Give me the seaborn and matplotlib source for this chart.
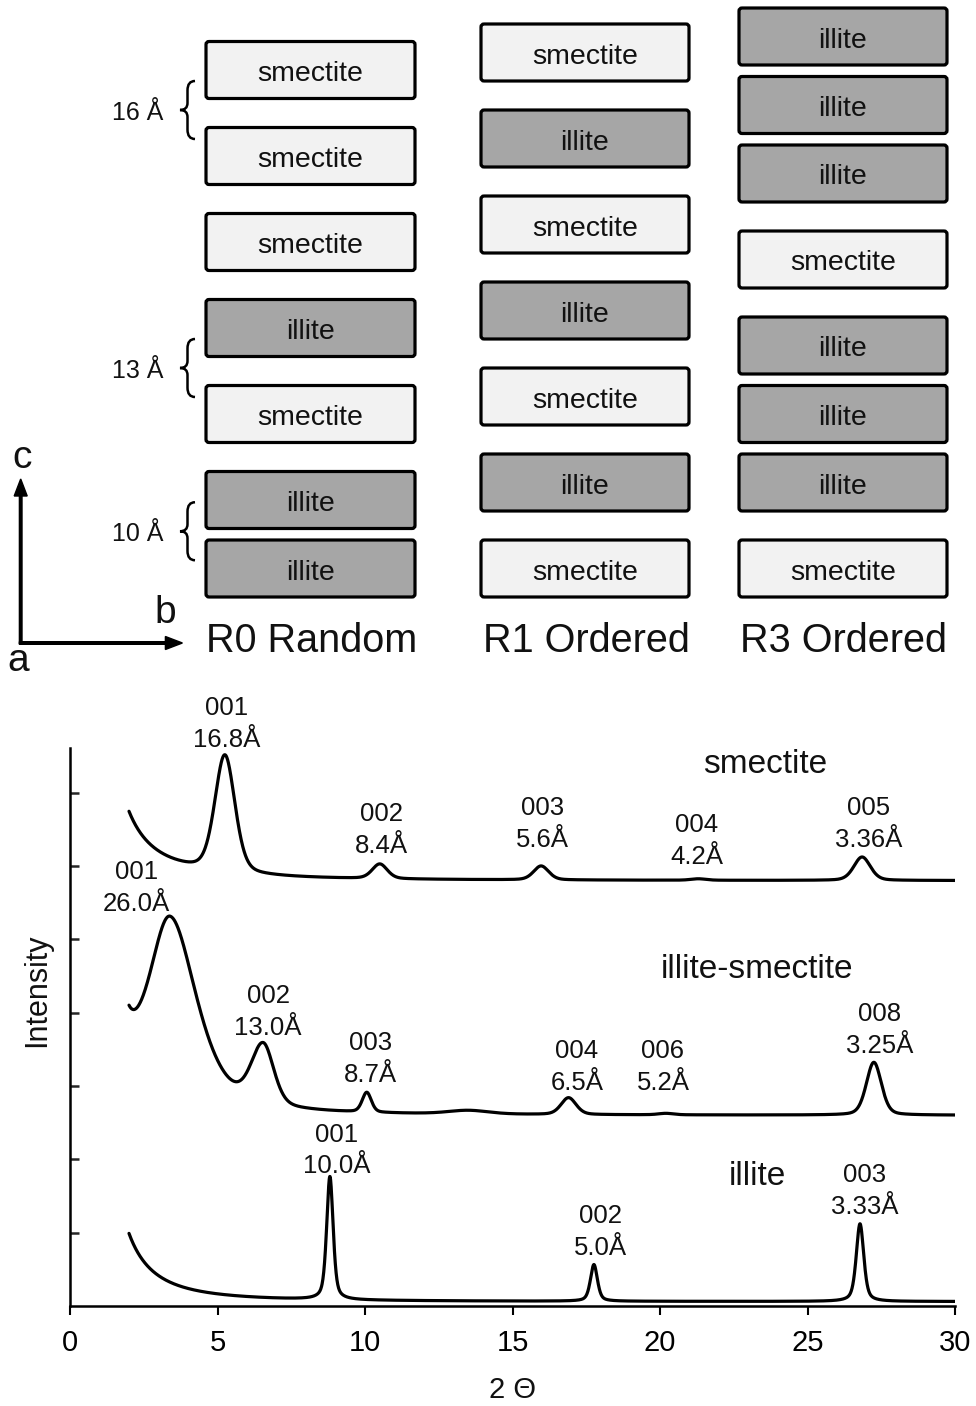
import numpy as np
import pandas as pd
import matplotlib
matplotlib.use("Agg")
import matplotlib.pyplot as plt
import seaborn as sns
from matplotlib.patches import FancyBboxPatch, FancyArrow, PathPatch
from matplotlib.path import Path

sns.set_theme(style="white")
plt.rcParams['font.family'] = ['Liberation Sans', 'DejaVu Sans']

# ---------------- data ----------------
column_titles = ["R0 Random", "R1 Ordered", "R3 Ordered"]
# layer stacks, listed top to bottom
stack_r0 = ["smectite", "smectite", "smectite", "illite", "smectite", "illite", "illite"]
stack_r1 = ["smectite", "illite", "smectite", "illite", "smectite", "illite", "smectite"]
stack_r3 = ["illite", "illite", "illite", "smectite", "illite", "illite", "illite", "smectite"]
spacing_labels = ["16 Å", "13 Å", "10 Å"]
spacing_after_layer = [0, 3, 5]          # brace between layer i and i+1 of R0

# XRD patterns: peak positions (2θ), heights, widths (left/right HWHM), Lorentz fraction
sm_pos = [5.25, 10.5, 15.97, 21.3, 26.85]
sm_height = [1.60, 0.20, 0.19, 0.02, 0.32]
sm_wl = [0.40, 0.30, 0.30, 0.30, 0.33]
sm_wr = [0.40, 0.30, 0.30, 0.30, 0.33]
sm_eta = [0.3, 0.3, 0.3, 0.3, 0.3]
sm_base = 5.80
sm_lowangle = [0.94, 2.15]

is_pos = [3.39, 6.55, 10.06, 13.5, 16.9, 20.2, 27.25]
is_height = [2.62, 0.82, 0.27, 0.05, 0.23, 0.02, 0.72]
is_wl = [0.90, 0.48, 0.18, 0.80, 0.30, 0.30, 0.30]
is_wr = [1.08, 0.42, 0.18, 0.80, 0.30, 0.30, 0.30]
is_eta = [0.6, 0.3, 0.3, 0.3, 0.3, 0.3, 0.3]
is_base = 2.60
is_lowangle = [0.835, 4.2]

il_pos = [8.81, 17.76, 26.78]
il_height = [1.68, 0.50, 1.06]
il_wl = [0.13, 0.14, 0.15]
il_wr = [0.13, 0.14, 0.15]
il_eta = [0.5, 0.5, 0.5]
il_base = 0.06
il_lowangle = [0.93, 2.38]

two_theta_range = [2.0, 30.0]

# peak annotations (label, 2θ, intensity of lower-line baseline)
sm_labels = ["001\n16.8Å", "002\n8.4Å", "003\n5.6Å", "004\n4.2Å", "005\n3.36Å"]
sm_label_x = [5.30, 10.56, 16.03, 21.24, 27.08]
sm_label_y = [7.63, 6.18, 6.26, 6.03, 6.26]
is_labels = ["001\n26.0Å", "002\n13.0Å", "003\n8.7Å", "004\n6.5Å", "006\n5.2Å", "008\n3.25Å"]
is_label_x = [2.26, 6.72, 10.20, 17.18, 20.10, 27.45]
is_label_y = [5.39, 3.70, 3.06, 2.95, 2.95, 3.45]
il_labels = ["001\n10.0Å", "002\n5.0Å", "003\n3.33Å"]
il_label_x = [9.04, 17.99, 26.94]
il_label_y = [1.81, 0.70, 1.26]
pattern_names = ["smectite", "illite-smectite", "illite"]
pattern_name_x = [23.56, 23.29, 23.29]
pattern_name_y = [7.27, 4.47, 1.65]
x_ticks = [0, 5, 10, 15, 20, 25, 30]
y_ticks = [1, 2, 3, 4, 5, 6, 7]


def pattern(x, pos, h, wl, wr, eta, base, low):
    y = np.full_like(x, base) + low[0] * (2.0 / x) ** low[1]
    for p, hh, a, b, e in zip(pos, h, wl, wr, eta):
        w = np.where(x < p, a, b)
        d2 = ((x - p) / w) ** 2
        y = y + hh * (e / (1 + d2) + (1 - e) * np.exp(-np.log(2) * d2))
    return y


x = np.linspace(two_theta_range[0], two_theta_range[1], 3000)
frames = []
for name, args in [("smectite", (sm_pos, sm_height, sm_wl, sm_wr, sm_eta, sm_base, sm_lowangle)),
                   ("illite-smectite", (is_pos, is_height, is_wl, is_wr, is_eta, is_base, is_lowangle)),
                   ("illite", (il_pos, il_height, il_wl, il_wr, il_eta, il_base, il_lowangle))]:
    frames.append(pd.DataFrame({"two_theta": x, "intensity": pattern(x, *args), "pattern": name}))
df = pd.concat(frames, ignore_index=True)

# ---------------- figure ----------------
W, H = 976, 1406
fig = plt.figure(figsize=(W / 100, H / 100), dpi=100)

# diagram overlay in pixel coordinates
axd = fig.add_axes([0, 0, 1, 1])
axd.set_xlim(0, W)
axd.set_ylim(H, 0)
axd.axis('off')
axd.patch.set_alpha(0)

fills = {"smectite": "#f2f2f2", "illite": "#a6a6a6"}
col_left = [206, 481, 739]
col_width = [209, 208, 208]
box_h = 57
bottom_top = 540


def stack_tops(stack):
    tops = [bottom_top]
    rev = stack[::-1]
    for i in range(1, len(rev)):
        gap = 11.5 if (rev[i] == "illite" and rev[i - 1] == "illite") else 29
        tops.append(tops[-1] - gap - box_h)
    return tops[::-1]


all_tops = []
for ci, stack in enumerate([stack_r0, stack_r1, stack_r3]):
    tops = stack_tops(stack)
    all_tops.append(tops)
    for layer, t in zip(stack, tops):
        axd.add_patch(FancyBboxPatch((col_left[ci], t), col_width[ci], box_h,
                                     boxstyle="round,pad=0,rounding_size=3",
                                     facecolor=fills[layer], edgecolor="black", lw=2.3))
        axd.text(col_left[ci] + col_width[ci] / 2, t + box_h / 2 + 11, layer,
                 ha="center", va="baseline", fontsize=20.5, color="#111111")
    axd.text(col_left[ci] + col_width[ci] / 2 + 1, 652, column_titles[ci],
             ha="center", va="baseline", fontsize=28.5, color="#111111")


def brace(ax, xl, xr, yc, h):
    xm = (xl + xr) / 2
    yt, yb = yc - h / 2, yc + h / 2
    verts = [(xr, yt), (xm, yt), (xm, yt + 0.16 * h),
             (xm, yc - 0.12 * h),
             (xm, yc), (xl, yc),
             (xm, yc), (xm, yc + 0.12 * h),
             (xm, yb - 0.16 * h),
             (xm, yb), (xr, yb)]
    codes = [Path.MOVETO, Path.CURVE3, Path.CURVE3, Path.LINETO,
             Path.CURVE3, Path.CURVE3, Path.CURVE3, Path.CURVE3,
             Path.LINETO, Path.CURVE3, Path.CURVE3]
    ax.add_patch(PathPatch(Path(verts, codes), fill=False, lw=1.8, edgecolor="black"))


tops0 = all_tops[0]
for lab, i in zip(spacing_labels, spacing_after_layer):
    yc = (tops0[i] + box_h + tops0[i + 1]) / 2 - 3
    brace(axd, 180, 195, yc, 58)
    axd.text(163, yc + 10, lab, ha="right", va="baseline", fontsize=18, color="#111111")

# crystallographic axes
axd.add_patch(FancyArrow(20.7, 644, 0, -165, width=2.6, head_width=13, head_length=17,
                         length_includes_head=True, color="black"))
axd.add_patch(FancyArrow(19.4, 643, 163, 0, width=2.6, head_width=13, head_length=17,
                         length_includes_head=True, color="black"))
axd.text(22, 468, "c", ha="center", va="baseline", fontsize=28, color="#111111")
axd.text(165, 623, "b", ha="center", va="baseline", fontsize=28, color="#111111")
axd.text(18, 671, "a", ha="center", va="baseline", fontsize=28, color="#111111")

# XRD plot
ax = fig.add_axes([70 / W, 100 / H, 885 / W, 558 / H])
sns.lineplot(data=df, x="two_theta", y="intensity", units="pattern", estimator=None,
             color="black", linewidth=2.3, sort=False, ax=ax, legend=False)
ax.set_xlim(0, 30)
ax.set_ylim(0, 7.61)
for s in ["top", "right"]:
    ax.spines[s].set_visible(False)
for s in ["left", "bottom"]:
    ax.spines[s].set_linewidth(1.8)
    ax.spines[s].set_color("black")
ax.set_xticks(x_ticks)
ax.set_yticks(y_ticks)
ax.set_yticklabels([])
ax.tick_params(axis="x", direction="out", length=6.5, width=1.5, labelsize=21, pad=10,
               colors="black", bottom=True)
ax.tick_params(axis="y", direction="in", length=6.5, width=1.8, left=True)
ax.set_xlabel("2 Θ", fontsize=21, color="#111111")
ax.set_ylabel("Intensity", fontsize=22, color="#111111")
ax.xaxis.set_label_coords(0.5, -0.125)
ax.yaxis.set_label_coords(-0.02, 0.566)

for labs, xs, ys in [(sm_labels, sm_label_x, sm_label_y),
                     (is_labels, is_label_x, is_label_y),
                     (il_labels, il_label_x, il_label_y)]:
    for l, lx, ly in zip(labs, xs, ys):
        ax.text(lx, ly, l, ha="center", va="baseline", fontsize=18.5, linespacing=1.4,
                multialignment="center", color="#111111", clip_on=False)
for n, nx, ny in zip(pattern_names, pattern_name_x, pattern_name_y):
    ax.text(nx, ny, n, ha="center", va="baseline", fontsize=24, color="#111111")

fig.savefig("out.png", dpi=100)
